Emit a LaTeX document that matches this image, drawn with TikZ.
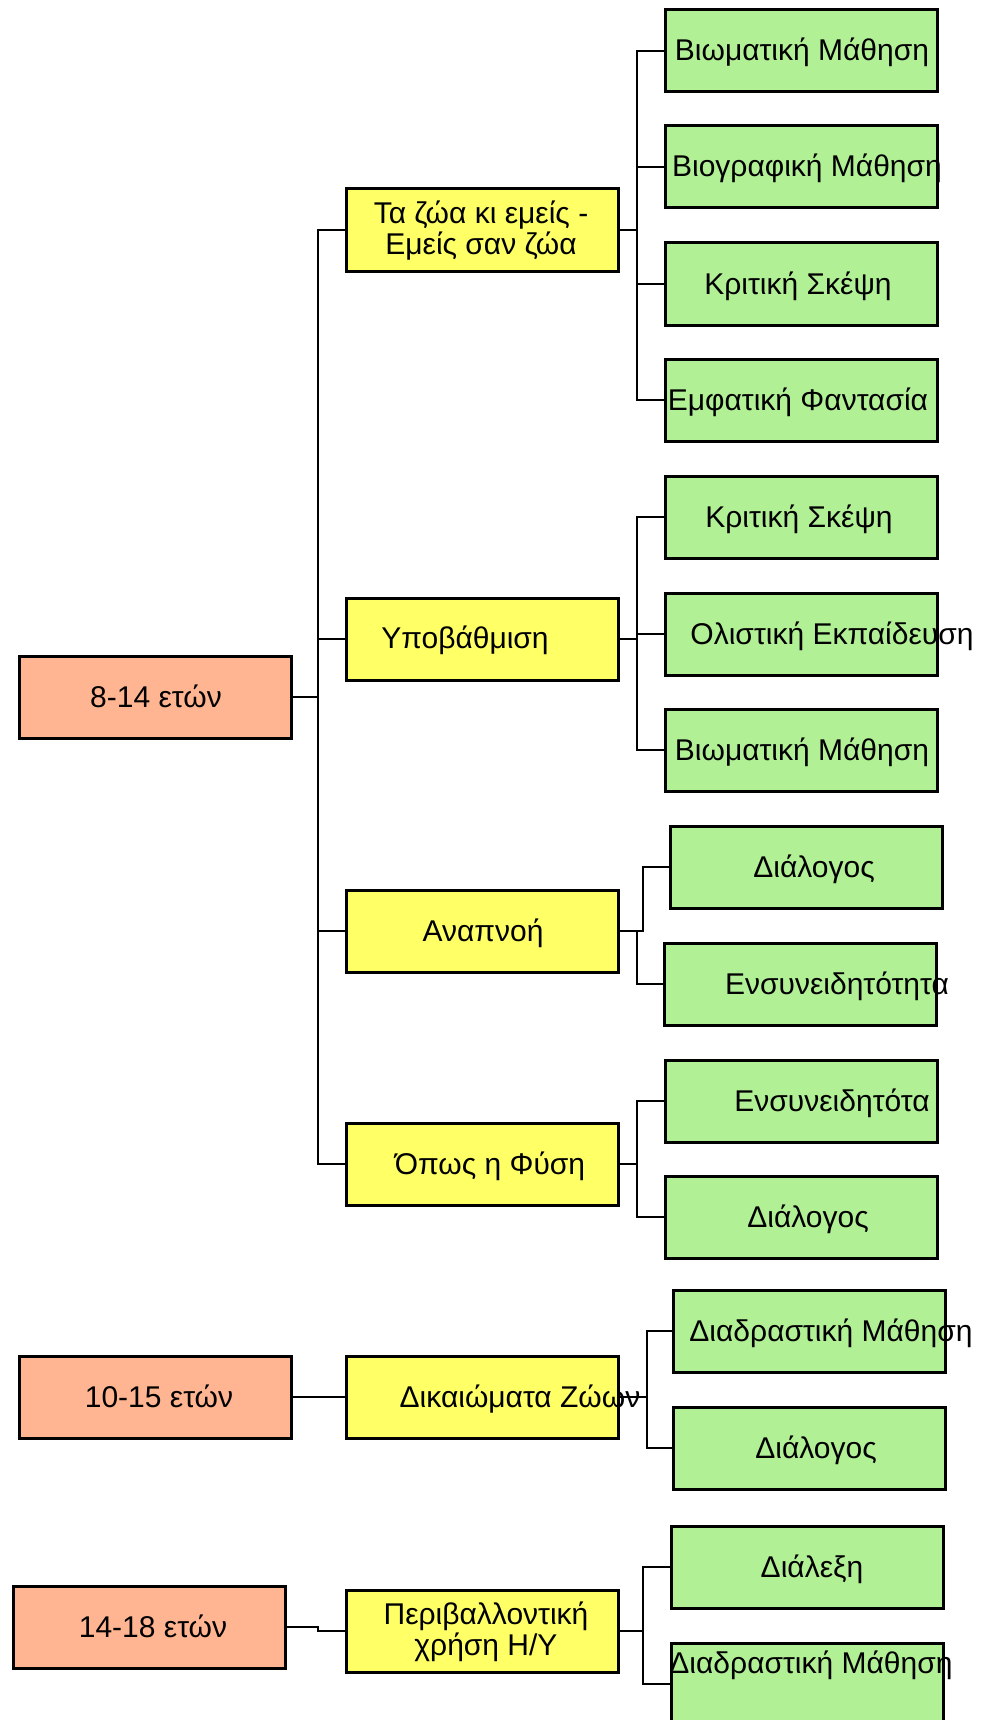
\documentclass[tikz,border=0pt]{standalone}
\usepackage{fontspec}
\setmainfont{Liberation Sans}
\definecolor{gbox}{RGB}{178,240,150}
\definecolor{ybox}{RGB}{255,255,102}
\definecolor{obox}{RGB}{255,181,145}
\begin{document}
\begin{tikzpicture}[x=1pt,y=-1pt,
  box/.style={draw=black, line width=3pt, minimum width=272pt, minimum height=82pt,
    inner sep=0pt, outer sep=0pt, anchor=north west},
  gb/.style={box, fill=gbox},
  yb/.style={box, fill=ybox},
  ob/.style={box, fill=obox},
  txt/.style={inner sep=0pt, anchor=base, font=\fontsize{30}{31}\selectfont},
  txt2/.style={inner sep=0pt, anchor=center, align=center, font=\fontsize{30}{31}\selectfont},
  conn/.style={draw=black, line width=2.6pt}]
\useasboundingbox (0,0) rectangle (981,1720);
\fill[white] (0,0) rectangle (981,1720);
% age boxes
\node[ob] (o1) at (19,656) {};
\node[ob] (o2) at (19,1356) {};
\node[ob] (o3) at (13,1586) {};
% topic boxes
\node[yb] (y1) at (346,189) {};
\node[yb] (y2) at (346,598) {};
\node[yb] (y3) at (346,890) {};
\node[yb] (y4) at (346,1123) {};
\node[yb] (y5) at (346,1356) {};
\node[yb] (y6) at (346,1590) {};
% method boxes
\node[gb] (g1) at (665,10) {};
\node[gb] (g2) at (665,126) {};
\node[gb] (g3) at (665,243) {};
\node[gb] (g4) at (665,359) {};
\node[gb] (g5) at (665,476) {};
\node[gb] (g6) at (665,593) {};
\node[gb] (g7) at (665,709) {};
\node[gb] (g8) at (670,826) {};
\node[gb] (g9) at (664,943) {};
\node[gb] (g10) at (665,1060) {};
\node[gb] (g11) at (665,1176) {};
\node[gb] (g12) at (673,1290) {};
\node[gb] (g13) at (673,1407) {};
\node[gb] (g14) at (671,1526) {};
\node[gb] (g15) at (671,1643) {};
% texts
\node[txt] (o1t) at (156,707) {8-14 ετών};
\node[txt] (o2t) at (159,1407) {10-15 ετών};
\node[txt] (o3t) at (153,1637) {14-18 ετών};
\node[txt2] (y1t) at (481,231) {Τα ζώα κι εμείς -\\Εμείς σαν ζώα};
\node[txt] (y2t) at (465,648) {Υποβάθμιση};
\node[txt] (y3t) at (483,941) {Αναπνοή};
\node[txt] (y4t) at (490,1174) {Όπως η Φύση};
\node[txt] (y5t) at (520,1407) {Δικαιώματα Ζώων};
\node[txt2] (y6t) at (486,1632) {Περιβαλλοντική\\χρήση Η/Υ};
\node[txt] (g1t) at (802,61) {Βιωματική Μάθηση};
\node[txt] (g2t) at (807,177) {Βιογραφική Μάθηση};
\node[txt] (g3t) at (798,294) {Κριτική Σκέψη};
\node[txt] (g4t) at (798,410) {Εμφατική Φαντασία};
\node[txt] (g5t) at (799,527) {Κριτική Σκέψη};
\node[txt] (g6t) at (832,644) {Ολιστική Εκπαίδευση};
\node[txt] (g7t) at (802,760) {Βιωματική Μάθηση};
\node[txt] (g8t) at (814,877) {Διάλογος};
\node[txt] (g9t) at (837,994) {Ενσυνειδητότητα};
\node[txt] (g10t) at (832,1111) {Ενσυνειδητότα};
\node[txt] (g11t) at (808,1227) {Διάλογος};
\node[txt] (g12t) at (831,1341) {Διαδραστική Μάθηση};
\node[txt] (g13t) at (816,1458) {Διάλογος};
\node[txt] (g14t) at (812,1577) {Διάλεξη};
\node[txt] (g15t) at (811,1673) {Διαδραστική Μάθηση};
% bus coordinates
\coordinate (b1) at (318,0);
\coordinate (b2) at (637,0);
\coordinate (b3) at (643,0);
\coordinate (b5) at (647,0);
% 8-14
\draw[conn] (o1.east) -- (o1.east -| b1);
\draw[conn] (y1.west) -- (y1.west -| b1) -- (y4.west -| b1) -- (y4.west);
\draw[conn] (y2.west -| b1) -- (y2.west);
\draw[conn] (y3.west -| b1) -- (y3.west);
% y1
\draw[conn] (y1.east) -- (y1.east -| b2);
\draw[conn] (g1.west) -- (g1.west -| b2) -- (g4.west -| b2) -- (g4.west);
\draw[conn] (g2.west -| b2) -- (g2.west);
\draw[conn] (g3.west -| b2) -- (g3.west);
% y2
\draw[conn] (y2.east) -- (y2.east -| b2);
\draw[conn] (g5.west) -- (g5.west -| b2) -- (g7.west -| b2) -- (g7.west);
\draw[conn] (g6.west -| b2) -- (g6.west);
% y3
\draw[conn] (y3.east) -- (y3.east -| b3) -- (g8.west -| b3) -- (g8.west);
\draw[conn] (y3.east -| b2) -- (g9.west -| b2) -- (g9.west);
% y4
\draw[conn] (y4.east) -- (y4.east -| b2);
\draw[conn] (g10.west) -- (g10.west -| b2) -- (g11.west -| b2) -- (g11.west);
% 10-15
\draw[conn] (o2.east) -- (y5.west);
\draw[conn] (y5.east) -- (y5.east -| b5);
\draw[conn] (g12.west) -- (g12.west -| b5) -- (g13.west -| b5) -- (g13.west);
% 14-18
\draw[conn] (o3.east) -- (o3.east -| b1) -- (y6.west -| b1) -- (y6.west);
\draw[conn] (y6.east) -- (y6.east -| b3);
\draw[conn] (g14.west) -- (g14.west -| b3) -- (g15.west -| b3) -- (g15.west);
\end{tikzpicture}
\end{document}
